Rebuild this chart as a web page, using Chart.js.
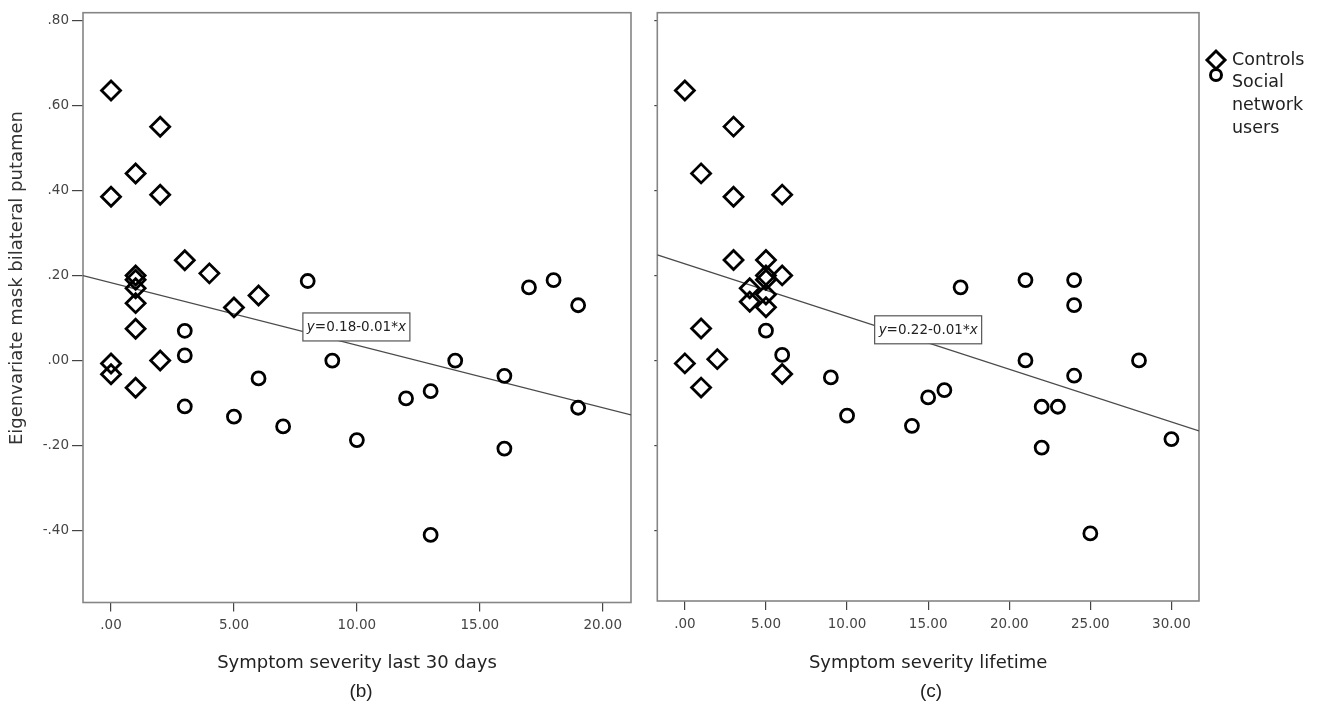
<!DOCTYPE html>
<html>
<head>
<meta charset="utf-8">
<script src="https://cdn.jsdelivr.net/npm/chart.js@4.4.0/dist/chart.umd.min.js"></script>
<style>
  html, body { margin: 0; padding: 0; background: #fff; }
  #wrap { position: relative; width: 1320px; height: 707px; overflow: hidden; }
  canvas { position: absolute; top: 0; }
  .panel { position: absolute; top: 679px; font: 19px 'Liberation Sans', Arial, sans-serif; color: #222; transform: translateX(-50%); line-height: 24px; }
</style>
</head>
<body>
<div id="wrap">
  <canvas id="left" width="645" height="707" style="left:0"></canvas>
  <canvas id="right" width="675" height="707" style="left:645px"></canvas>
  <div class="panel" style="left:361px">(b)</div>
  <div class="panel" style="left:931px">(c)</div>
</div>
<script>
// ---- datos ----
const yTicks = [-0.4, -0.2, 0, 0.2, 0.4, 0.6, 0.8];
const xTicksLeft = [0, 5, 10, 15, 20];
const xTicksRight = [0, 5, 10, 15, 20, 25, 30];

// (b) Symptom severity last 30 days
const leftControlsX = [0, 0, 0, 0, 1, 1, 1, 1, 1, 1, 1, 2, 2, 2, 3, 4, 5, 6];
const leftControlsY = [0.635, 0.385, -0.007, -0.032, 0.44, 0.2, 0.19, 0.17, 0.135, 0.075, -0.064, 0.55, 0.39, 0.0, 0.236, 0.205, 0.125, 0.153];
const leftUsersX = [3, 3, 3, 5, 6, 7, 8, 9, 10, 12, 13, 13, 14, 16, 16, 17, 18, 19, 19];
const leftUsersY = [0.07, 0.012, -0.108, -0.132, -0.042, -0.155, 0.187, 0.0, -0.187, -0.089, -0.072, -0.41, 0.0, -0.036, -0.207, 0.172, 0.189, 0.13, -0.111];
const leftFit = [0.183, -0.0147]; // intercepto, pendiente

// (c) Symptom severity lifetime
const rightControlsX = [0, 3, 1, 3, 6, 3, 5, 5, 5, 6, 4, 4, 5, 5, 1, 0, 2, 1, 6];
const rightControlsY = [0.635, 0.55, 0.44, 0.385, 0.39, 0.236, 0.236, 0.2, 0.19, 0.2, 0.17, 0.138, 0.155, 0.125, 0.075, -0.007, 0.003, -0.064, -0.032];
const rightUsersX = [5, 6, 9, 10, 14, 15, 16, 17, 21, 21, 22, 22, 23, 24, 24, 24, 25, 28, 30];
const rightUsersY = [0.07, 0.013, -0.04, -0.13, -0.154, -0.087, -0.07, 0.172, 0.189, 0.0, -0.109, -0.205, -0.109, 0.189, 0.13, -0.036, -0.407, 0.0, -0.185];
const rightFit = [0.227, -0.0124];

const legendLabels = ['Controls', ['Social', 'network', 'users']];

const TXT = "'DejaVu Sans', Verdana, sans-serif";

function pts(xs, ys) {
  return xs.map((x, i) => ({ x: x, y: ys[i] }));
}

function fitLine(fit, xmin, xmax) {
  return [xmin, xmax].map(x => ({ x: x, y: fit[0] + fit[1] * x }));
}

// ".80", "-.40", "10.00"
function fmt(v) {
  return v.toFixed(2).replace(/^(-?)0\./, '$1.');
}

// marco gris alrededor del área del gráfico
const framePlugin = {
  id: 'frame',
  beforeDatasetsDraw(chart) {
    const a = chart.chartArea;
    const ctx = chart.ctx;
    ctx.save();
    ctx.strokeStyle = '#858585';
    ctx.lineWidth = 1.6;
    ctx.strokeRect(a.left, a.top, a.right - a.left, a.bottom - a.top);
    ctx.restore();
  }
};

// caja con la ecuación de la recta
const eqPlugin = {
  id: 'eqLabel',
  afterDatasetsDraw(chart, args, opts) {
    const ctx = chart.ctx;
    const cx = chart.scales.x.getPixelForValue(opts.x);
    const cy = chart.scales.y.getPixelForValue(opts.y);
    const parts = [['y', true], ['=' + opts.a + '-' + opts.b + '*', false], ['x', true]];
    ctx.save();
    const size = 13.5;
    let total = 0;
    parts.forEach(p => {
      ctx.font = (p[1] ? 'oblique ' : '') + size + 'px ' + TXT;
      p.push(ctx.measureText(p[0]).width);
      total += p[2];
    });
    const w = 107, h = 28;
    ctx.fillStyle = '#fff';
    ctx.fillRect(cx - w / 2, cy - h / 2, w, h);
    ctx.strokeStyle = '#555';
    ctx.lineWidth = 1.2;
    ctx.strokeRect(cx - w / 2, cy - h / 2, w, h);
    ctx.fillStyle = '#222';
    ctx.textBaseline = 'middle';
    let x = cx - total / 2;
    parts.forEach(p => {
      ctx.font = (p[1] ? 'oblique ' : '') + size + 'px ' + TXT;
      ctx.fillText(p[0], x, cy + 1);
      x += p[2];
    });
    ctx.restore();
  }
};

// título del eje Y (solo panel izquierdo)
const yTitlePlugin = {
  id: 'yTitle',
  afterDraw(chart, args, opts) {
    if (!opts.text) return;
    const ctx = chart.ctx;
    ctx.save();
    ctx.translate(opts.x, opts.y);
    ctx.rotate(-Math.PI / 2);
    ctx.font = '18px ' + TXT;
    ctx.fillStyle = '#333';
    ctx.textAlign = 'center';
    ctx.textBaseline = 'middle';
    ctx.fillText(opts.text, 0, 0);
    ctx.restore();
  }
};

// leyenda a la derecha del panel (c)
const legendPlugin = {
  id: 'sideLegend',
  afterDraw(chart, args, opts) {
    if (!opts.show) return;
    const ctx = chart.ctx;
    const sets = chart.data.datasets.filter(d => d.type !== 'line');
    ctx.save();
    ctx.strokeStyle = '#000';
    ctx.fillStyle = 'rgba(0,0,0,0)';
    ctx.lineWidth = 3;
    Chart.helpers.drawPoint(ctx, { pointStyle: sets[0].pointStyle, radius: 9, borderWidth: 3 }, opts.x, opts.y);
    Chart.helpers.drawPoint(ctx, { pointStyle: sets[1].pointStyle, radius: 5.5, borderWidth: 3 }, opts.x, opts.y + 15);
    ctx.font = '17.5px ' + TXT;
    ctx.fillStyle = '#222';
    ctx.textBaseline = 'middle';
    ctx.fillText(legendLabels[0], opts.x + 16, opts.y);
    legendLabels[1].forEach((t, i) => ctx.fillText(t, opts.x + 16, opts.y + 22 + i * 23.3));
    ctx.restore();
  }
};

function makePanel(id, cfg) {
  const ctx = document.getElementById(id).getContext('2d');
  return new Chart(ctx, {
    type: 'scatter',
    data: {
      datasets: [
        {
          label: 'Controls',
          data: pts(cfg.cx, cfg.cy),
          pointStyle: 'rectRot',
          pointRadius: 9.5,
          borderColor: '#000',
          backgroundColor: 'rgba(0,0,0,0)',
          borderWidth: 2.8,
          order: 2
        },
        {
          label: 'Social network users',
          data: pts(cfg.ux, cfg.uy),
          pointStyle: 'circle',
          pointRadius: 6.5,
          borderColor: '#000',
          backgroundColor: 'rgba(0,0,0,0)',
          borderWidth: 2.8,
          order: 2
        },
        {
          type: 'line',
          label: 'fit',
          data: fitLine(cfg.fit, cfg.xmin, cfg.xmax),
          borderColor: '#4a4a4a',
          borderWidth: 1.3,
          pointRadius: 0,
          order: 3
        }
      ]
    },
    options: {
      responsive: false,
      animation: false,
      events: [],
      layout: { padding: { top: 12.7, right: cfg.padRight, bottom: 0, left: 0 } },
      scales: {
        x: {
          type: 'linear',
          min: cfg.xmin,
          max: cfg.xmax,
          afterBuildTicks: axis => { axis.ticks = cfg.xTicks.map(v => ({ value: v })); },
          afterFit: axis => { axis.height = cfg.xHeight; },
          border: { display: false },
          grid: { display: true, drawOnChartArea: false, drawTicks: true, tickLength: 9, color: '#444', lineWidth: 1.2 },
          ticks: { color: '#444', font: { family: TXT, size: 13.5 }, padding: 6, maxRotation: 0, callback: v => fmt(v) },
          title: { display: true, text: cfg.xTitle, color: '#222', font: { family: TXT, size: 18 }, padding: { top: 0, bottom: 33 } }
        },
        y: {
          type: 'linear',
          min: cfg.ymin,
          max: cfg.ymax,
          afterBuildTicks: axis => { axis.ticks = yTicks.map(v => ({ value: v })); },
          afterFit: axis => { axis.width = cfg.yWidth; },
          border: { display: false },
          grid: { display: true, drawOnChartArea: false, drawTicks: true, tickLength: cfg.yTickLen, color: '#444', lineWidth: 1.2 },
          ticks: { display: cfg.yLabels, color: '#444', font: { family: TXT, size: 13.5 }, padding: 3, callback: v => fmt(v) }
        }
      },
      plugins: {
        legend: { display: false },
        tooltip: { enabled: false },
        eqLabel: cfg.eq,
        yTitle: cfg.yTitle,
        sideLegend: cfg.legend
      }
    },
    plugins: [framePlugin, eqPlugin, yTitlePlugin, legendPlugin]
  });
}

makePanel('left', {
  cx: leftControlsX, cy: leftControlsY, ux: leftUsersX, uy: leftUsersY, fit: leftFit,
  xmin: -1.14, xmax: 21.15, ymin: -0.569, ymax: 0.818, xTicks: xTicksLeft,
  padRight: 14, xHeight: 104.5, yWidth: 83, yTickLen: 11, yLabels: true,
  xTitle: 'Symptom severity last 30 days',
  eq: { x: 9.98, y: 0.079, a: '0.18', b: '0.01' },
  yTitle: { text: 'Eigenvariate mask bilateral putamen', x: 17, y: 278 },
  legend: { show: false }
});

makePanel('right', {
  cx: rightControlsX, cy: rightControlsY, ux: rightUsersX, uy: rightUsersY, fit: rightFit,
  xmin: -1.7, xmax: 31.7, ymin: -0.566, ymax: 0.818, xTicks: xTicksRight,
  padRight: 121, xHeight: 106, yWidth: 10, yTickLen: 3, yLabels: false,
  xTitle: 'Symptom severity lifetime',
  eq: { x: 15.0, y: 0.072, a: '0.22', b: '0.01' },
  yTitle: {},
  legend: { show: true, x: 571, y: 60 }
});
</script>
</body>
</html>
